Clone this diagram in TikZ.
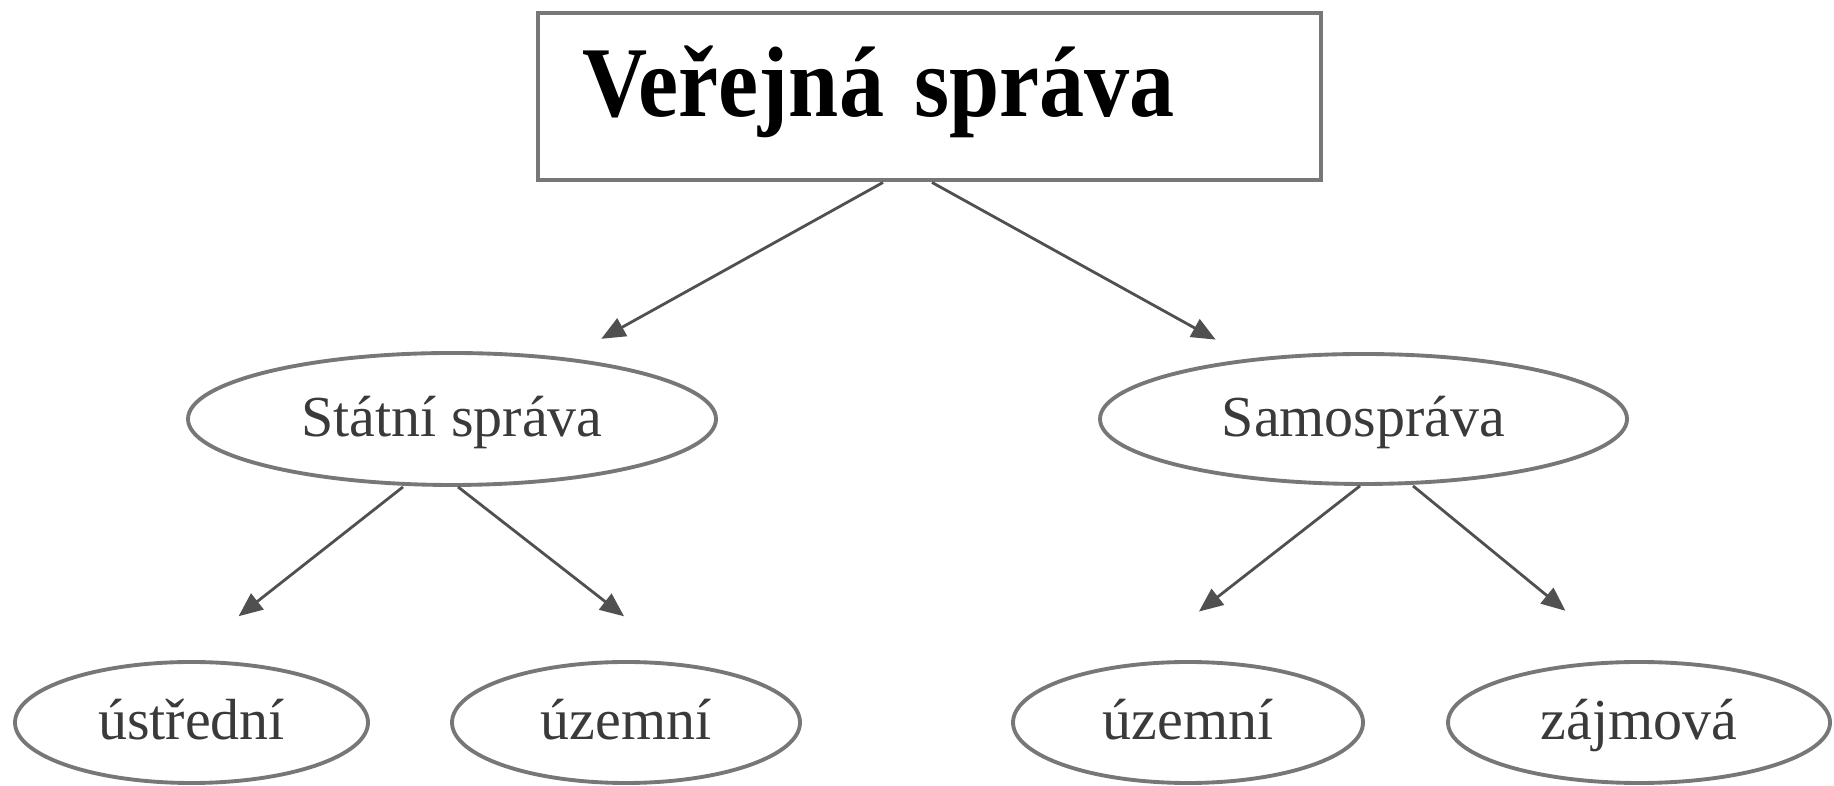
\documentclass[tikz,border=0pt]{standalone}
\usepackage{fontspec}
\setmainfont{Liberation Serif}
\usepackage{graphicx}
\usetikzlibrary{positioning,shapes,arrows.meta}
\definecolor{lineGray}{HTML}{777777}
\definecolor{arrowGray}{HTML}{505050}
\definecolor{textGray}{HTML}{3A3A3A}
\tikzstyle{nodeBox}  =[rectangle, draw=lineGray, line width=1.4pt, inner xsep=0.44cm, inner ysep=0pt,
                       text width=6.95cm, align=left, text height=1.04cm, text depth=0.63cm,
                       font=\fontsize{28.5}{30}\selectfont\bfseries]
\tikzstyle{nodeOval} =[ellipse, draw=lineGray, line width=1.1pt, inner sep=0pt, text=textGray,
                       text height=0.45cm, text depth=0.10cm, font=\fontsize{16.5}{18}\selectfont]
\tikzstyle{edgeArr}  =[->, draw=arrowGray, line width=0.8pt]

\begin{document}
\begin{tikzpicture}[>={Triangle[length=2.4mm,width=2mm]}, on grid]
      \useasboundingbox (0,0) rectangle (18.34,7.86);
      \node[nodeBox] (vs) at (9.295,6.895) {\scalebox{0.9}[1]{Veřejná správa}};
      \node[nodeOval, minimum width=5.28cm, minimum height=1.32cm] (st) [below left = 3.225cm and 4.775cm of vs] {Státní správa};
      \node[nodeOval, minimum width=5.27cm, minimum height=1.30cm] (sa) [below right = 3.225cm and 4.34cm of vs] {Samospráva};
      \node[nodeOval, minimum width=3.53cm, minimum height=1.21cm] (us) [below left = 3.035cm and 2.605cm of st] {ústřední};
      \node[nodeOval, minimum width=3.48cm, minimum height=1.21cm] (uz) [below right = 3.035cm and 1.74cm of st] {územní};
      \node[nodeOval, minimum width=3.50cm, minimum height=1.21cm] (uzs) [below left = 3.035cm and 1.755cm of sa] {územní};
      \node[nodeOval, minimum width=3.82cm, minimum height=1.21cm] (za) [below right = 3.035cm and 2.755cm of sa] {zájmová};
      \draw[edgeArr, shorten >=3.9mm] ([xshift=-4.65mm]vs.south) -- (st.28);
      \draw[edgeArr, shorten >=3.9mm] ([xshift=0.25mm]vs.south) -- (sa.152);
      \draw[edgeArr, shorten >=7.1mm] ([xshift=-4.9mm]st.south) -- (us.98);
      \draw[edgeArr, shorten >=7.7mm] ([xshift=0.6mm]st.south) -- (uz.45);
      \draw[edgeArr, shorten >=8.4mm] ([xshift=-0.35mm]sa.south) -- (uzs.133);
      \draw[edgeArr, shorten >=7.8mm] ([xshift=4.95mm]sa.south) -- (za.102);
    \end{tikzpicture}
\end{document}
